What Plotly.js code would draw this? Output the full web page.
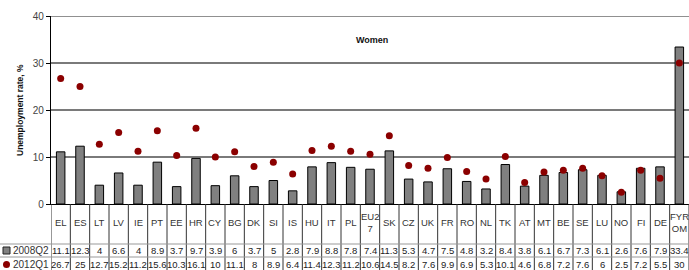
<!DOCTYPE html>
<html>
<head>
<meta charset="utf-8">
<script src="https://cdn.plot.ly/plotly-3.0.1.min.js"></script>
<style>html,body{margin:0;padding:0;background:#fff;}#chart{width:689px;height:270px;}</style>
</head>
<body>
<div id="chart"></div>
<script>
const categories = ["EL","ES","LT","LV","IE","PT","EE","HR","CY","BG","DK","SI","IS","HU","IT","PL","EU27","SK","CZ","UK","FR","RO","NL","TK","AT","MT","BE","SE","LU","NO","FI","DE","FYROM"];
const tickLabels = ["EL","ES","LT","LV","IE","PT","EE","HR","CY","BG","DK","SI","IS","HU","IT","PL","EU2<br>7","SK","CZ","UK","FR","RO","NL","TK","AT","MT","BE","SE","LU","NO","FI","DE","FYR<br>OM"];
const series2008Q2 = [11.1,12.3,4,6.6,4,8.9,3.7,9.7,3.9,6,3.7,5,2.8,7.9,8.8,7.8,7.4,11.3,5.3,4.7,7.5,4.8,3.2,8.4,3.8,6.1,6.7,7.3,6.1,2.6,7.6,7.9,33.4];
const series2012Q1 = [26.7,25,12.7,15.2,11.2,15.6,10.3,16.1,10,11.1,8,8.9,6.4,11.4,12.3,11.2,10.6,14.5,8.2,7.6,9.9,6.9,5.3,10.1,4.6,6.8,7.2,7.6,6,2.5,7.2,5.5,30];
const seriesNames = ["2008Q2","2012Q1"];
const yTicks = [0,10,20,30,40];

const W = 689, H = 270, ML = 51, MR = 0, MT = 16, MB = 66;
const PW = W - ML - MR, PH = H - MT - MB;
const py = (pix) => (H - MB - pix) / PH;   // pixel y -> paper y
const px = (pix) => (pix - ML) / PW;       // pixel x -> paper x
const FONT = "Liberation Sans, Arial, sans-serif";

const traces = [
  {type:"bar", x:categories, y:series2008Q2, name:seriesNames[0], width:0.44,
   marker:{color:"#808080", line:{color:"#000", width:1}}, hoverinfo:"x+y"},
  {type:"scatter", mode:"markers", x:categories, y:series2012Q1, name:seriesNames[1],
   marker:{color:"#8b0000", size:7}, hoverinfo:"x+y"}
];

const shapes = [];
const annotations = [];
shapes.push({type:"line", xref:"paper", yref:"y", x0:0, x1:1, y0:40, y1:40, line:{color:"#222", width:1.2}});
for (let i = 0; i <= categories.length; i++) {
  shapes.push({type:"line", xref:"x", yref:"paper", x0:i-0.5, x1:i-0.5, y0:0, y1:py(H+2), line:{color:"#333", width:1}});
}
[244, 257].forEach(yp => {
  shapes.push({type:"line", xref:"paper", yref:"paper", x0:px(0), x1:1, y0:py(yp), y1:py(yp), line:{color:"#999", width:1}});
});
// legend markers
shapes.push({type:"rect", xref:"paper", yref:"paper", x0:px(3), x1:px(10), y0:py(247), y1:py(254),
  fillcolor:"#808080", line:{color:"#222", width:1}});
shapes.push({type:"circle", xref:"paper", yref:"paper", x0:px(3), x1:px(10), y0:py(261), y1:py(268),
  fillcolor:"#8b0000", line:{color:"#8b0000", width:0}});

categories.forEach((c, i) => {
  annotations.push({xref:"x", yref:"paper", x:c, y:py(223), text:tickLabels[i], showarrow:false,
    font:{family:FONT, size:9.5, color:"#333"}, xanchor:"center", yanchor:"middle"});
  annotations.push({xref:"x", yref:"paper", x:c, y:py(250.5), text:String(series2008Q2[i]), showarrow:false,
    font:{family:FONT, size:9.5, color:"#222"}, xanchor:"center", yanchor:"middle"});
  annotations.push({xref:"x", yref:"paper", x:c, y:py(264), text:String(series2012Q1[i]), showarrow:false,
    font:{family:FONT, size:9.5, color:"#222"}, xanchor:"center", yanchor:"middle"});
});
annotations.push({xref:"paper", yref:"paper", x:px(11), y:py(250.5), xanchor:"left", yanchor:"middle", showarrow:false,
  text:seriesNames[0], font:{family:FONT, size:10, color:"#333"}});
annotations.push({xref:"paper", yref:"paper", x:px(11), y:py(264), xanchor:"left", yanchor:"middle", showarrow:false,
  text:seriesNames[1], font:{family:FONT, size:10, color:"#333"}});
annotations.push({xref:"paper", yref:"paper", x:px(372), y:py(40), xanchor:"center", yanchor:"middle", showarrow:false,
  text:"<b>Women</b>", font:{family:FONT, size:9, color:"#111"}});
annotations.push({xref:"paper", yref:"paper", x:px(20), y:py(110), xanchor:"center", yanchor:"middle", showarrow:false,
  textangle:-90, text:"<b>Unemployment rate, %</b>", font:{family:FONT, size:8.5, color:"#111"}});

const layout = {
  width:W, height:H,
  margin:{l:ML, r:MR, t:MT, b:MB, pad:0},
  paper_bgcolor:"#fff", plot_bgcolor:"#fff",
  showlegend:false,
  font:{family:FONT},
  xaxis:{type:"category", range:[-0.5, categories.length-0.5], showticklabels:false, ticks:"",
    showgrid:false, showline:true, linecolor:"#000", linewidth:1, fixedrange:true},
  yaxis:{range:[0,40], tickvals:yTicks, ticktext:yTicks.map(String), ticks:"outside", ticklen:4, tickcolor:"#000",
    tickfont:{family:FONT, size:10, color:"#444"}, showgrid:true, gridcolor:"#7a7a7a", gridwidth:1.5,
    zeroline:true, zerolinecolor:"#000", zerolinewidth:1, showline:true, linecolor:"#000", linewidth:1.2, fixedrange:true},
  shapes:shapes, annotations:annotations,
  bargap:0.5
};
Plotly.newPlot("chart", traces, layout, {displayModeBar:false, staticPlot:true});
</script>
</body>
</html>
